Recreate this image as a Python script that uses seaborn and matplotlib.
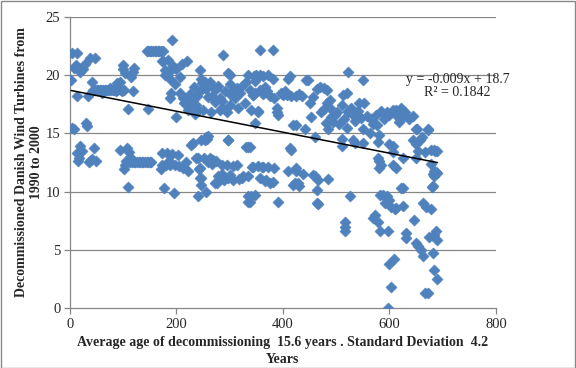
import numpy as np
import pandas as pd
import seaborn as sns
import matplotlib.pyplot as plt
import matplotlib.patches as mpatches

# (turbine index, age at decommissioning), by region
pts_start = [(3,21.9),(13,21.9),(8,20.6),(19,20.3),(2,19.6),(13,18.2),(34,18.2),(28,21.0),
             (38,21.5),(47,21.5),(41,19.4),(3,15.5),(7,15.4),(31,15.9),(32,15.6),(19,13.9),
             (13,13.3),(15,12.6),(38,12.6),(45,13.7),(11,20.9),(24,20.5),(17,12.9),(42,12.8),
             (48,12.6),(35,12.5),(22,13.5)]
run_18 = [(44,18.7),(47,18.7),(50,18.7),(53,18.7),(56,18.7),(59,18.7),(62,18.7),(65,18.7),
          (68,18.7),(71,18.7),(74,18.7),(77,18.7),(80,18.7),(83,18.7),(86,18.6),(89,18.7),
          (92,18.8),(95,18.7),(98,18.6),(101,18.7),(60,18.5),(75,18.9)]
pts_early = [(94,19.4),(99,20.9),(100,20.5),(118,20.3),(121,20.6),(109,17.1),(118,18.6),
             (147,17.1),(94,13.6),(111,13.4),(113,13.0),(104,12.3),(101,11.9),(109,10.4),
             (108,13.7),(88,19.3),(106,12.6),(112,12.5),(104,20.2),(114,19.8)]
run_12 = [(117,12.5),(120,12.5),(123,12.5),(126,12.5),(129,12.5),(132,12.5),(135,12.5),
          (138,12.5),(141,12.5),(144,12.5),(147,12.5),(150,12.5),(153,12.5)]
run_22 = [(144,22.1),(147,22.1),(150,22.1),(153,22.1),(156,22.1),(159,22.1),(162,22.1),
          (165,22.1),(168,22.1),(171,22.1),(174,22.1)]
pts_mid_hi = [(191,23.0),(175,21.2),(185,21.3),(194,20.8),(210,21.0),(219,21.2),(178,20.0),
              (187,19.7),(206,19.8),(182,20.2),(188,18.0),(206,18.5),(200,16.4),(225,18.4),
              (219,18.0),(228,17.4),(237,17.4),(244,18.6),(244,20.4),(246,19.7),(253,19.4),
              (250,17.0),(231,17.9),(238,18.2),(214,17.6),(222,17.0),(234,16.7),(241,17.0),
              (256,18.8),(260,18.1),(232,19.0),(190,18.5),(197,19.2),(172,21.2),(178,20.4),
              (190,20.4),(200,20.5),(212,18.0),(230,18.0),(248,19.3),(265,16.8),(282,17.0)]
pts_mid_lo = [(172,13.3),(183,13.3),(191,13.2),(203,13.1),(172,12.3),(180,12.3),(188,12.3),
              (197,12.3),(205,12.2),(213,12.0),(231,14.2),(237,12.9),(244,12.0),(247,14.4),
              (256,14.7),(258,14.5),(177,10.3),(196,9.9),(240,9.6),(256,10.0),(247,10.6),
              (247,11.2),(243,11.9),(245,11.2),(171,11.9),(186,12.6),(218,12.5),(240,12.9),
              (251,12.9),(259,12.5),(222,11.8),(227,14.0)]
pts_300_hi = [(263,19.4),(269,19.0),(275,18.8),(278,19.1),(288,21.7),(297,20.2),(300,19.2),
              (306,18.7),(313,18.9),(319,18.5),(328,17.6),(281,18.0),(285,17.2),(300,17.4),
              (303,18.3),(331,19.4),(334,20.0),(350,20.0),(353,16.9),(356,20.0),(356,22.2),
              (267,18.2),(272,17.7),(291,18.6),(310,18.0),(322,19.0),(338,18.7),(344,18.3),
              (348,19.5),(340,17.0),(295,16.8),(316,17.2),(286,17.8),(300,20.0),(347,15.9)]
pts_300_lo = [(263,12.9),(269,12.7),(275,12.6),(285,12.3),(297,14.4),(294,12.3),(306,12.2),
              (313,12.3),(331,13.8),(341,12.1),(272,10.7),(278,11.3),(285,11.5),(297,11.2),
              (306,11.0),(277,10.7),(290,11.0),(300,11.4),(318,11.1),(324,11.2),(266,12.4),
              (253,14.4),(259,14.8),(296,14.4),(334,13.8),(334,9.1),(340,9.6)]
pts_400_hi = [(362,18.4),(366,19.0),(370,18.6),(375,18.2),(381,19.7),(384,18.0),(388,17.2),
              (391,16.6),(410,19.7),(408,18.3),(416,18.2),(425,18.2),(419,15.7),(413,19.9),
              (396,18.5),(400,18.3),(404,18.6),(430,18.4),(436,18.2),(444,19.6),(348,18.5),
              (343,18.3),(356,18.7),(372,20.0),(363,19.9),(345,19.9),(388,16.8),(381,22.2),
              (353,16.8)]
pts_400_lo = [(344,12.1),(360,12.1),(369,11.0),(381,10.8),(384,12.0),(372,12.1),(353,12.2),
              (362,12.1),(334,11.3),(325,11.3),(356,11.2),(366,10.9),(375,10.7),(338,9.1),
              (347,9.7),(334,9.6),(391,9.1),(410,11.8),(419,10.6),(428,10.7),(425,11.8),
              (437,11.5),(422,10.7),(431,10.5),(460,11.3),(466,11.0),(484,11.1),(456,11.4),
              (463,10.1),(466,8.9),(425,12.0),(413,13.7),(416,13.6),(338,13.8)]
pts_500 = [(447,19.6),(463,18.8),(470,19.0),(478,18.9),(482,18.7),(488,17.9),(512,18.3),
           (488,17.2),(453,16.4),(425,15.7),(441,15.4),(460,14.7),(450,17.6),(456,18.1),
           (478,17.1),(482,17.6),(472,16.8),(494,16.0),(484,15.4),(497,16.6),(510,17.4),
           (502,16.8),(490,16.4),(505,15.8),(515,16.2),(520,15.5),(510,14.5),(510,13.9),
           (520,18.5),(523,20.3),(480,15.9)]
pts_550 = [(523,16.8),(522,16.9),(532,16.6),(535,16.1),(542,17.6),(547,16.3),(550,15.4),
           (563,15.0),(551,19.6),(553,17.6),(569,15.8),(575,16.6),(576,15.7),(581,14.9),
           (578,14.3),(585,16.9),(590,16.2),(595,16.8),(532,14.4),(535,14.2),(550,14.2),
           (528,17.2),(540,16.9),(557,16.5),(566,16.2),(579,12.9),(581,12.6),(584,12.3),
           (581,12.0)]
pts_650 = [(600,16.6),(606,17.0),(612,16.6),(612,17.0),(622,17.2),(623,17.0),(628,16.5),
           (630,16.8),(644,16.5),(650,15.4),(651,15.4),(662,14.7),(672,15.4),(673,15.3),
           (645,14.4),(650,14.1),(657,14.4),(654,13.5),(666,13.4),(678,13.6),(684,13.6),
           (685,13.5),(690,13.5),(678,12.4),(684,11.8),(600,14.1),(606,13.4),(607,13.9),
           (606,12.3),(625,12.9),(650,12.9),(613,12.0),(683,11.3),(679,10.4),(687,11.7),
           (681,11.5),(681,10.5),(690,11.6),(618,16.0),(636,16.2)]
pts_low = [(516,7.4),(516,7.0),(516,6.6),(525,9.6),(582,9.7),(591,9.0),(588,9.7),(600,9.3),
           (602,8.7),(625,10.3),(625,8.8),(572,8.0),(569,7.7),(578,7.4),(582,6.6),(597,6.6),
           (632,6.4),(632,6.0),(647,7.6),(663,9.0),(669,8.7),(678,8.5),(675,6.1),(684,6.3),
           (687,6.6),(690,5.8),(650,5.6),(653,5.3),(660,5.0),(663,4.5),(681,4.7),(600,3.8),
           (609,4.2),(603,1.8),(597,0.0),(666,1.3),(672,1.3),(684,3.3),(690,2.5),(611,8.5),
           (613,8.6),(622,10.3),(595,9.6),(463,9.0)]

trend_slope = -0.009
trend_icept = 18.7
r_squared = 0.1842
x_ticks = [0, 200, 400, 600, 800]
y_ticks = [0, 5, 10, 15, 20, 25]

all_pts = (pts_start + run_18 + pts_early + run_12 + run_22 + pts_mid_hi + pts_mid_lo
           + pts_300_hi + pts_300_lo + pts_400_hi + pts_400_lo + pts_500 + pts_550
           + pts_650 + pts_low)
df = pd.DataFrame(all_pts, columns=["turbine", "age"])

sns.set_style("white")
plt.rcParams['font.family'] = ['Liberation Serif', 'DejaVu Serif']

fig = plt.figure(figsize=(5.76, 3.68), dpi=100)
ax = fig.add_axes([0.1215, 0.163, 0.7395, 0.791])

blue = "#4F81BD"
grid = "#868686"

sns.scatterplot(data=df, x="turbine", y="age", marker="D", s=32, color=blue,
                edgecolor=blue, linewidth=0.4, ax=ax, zorder=3)

trend = pd.DataFrame({"x": [df.turbine.min(), df.turbine.max()]})
trend["y"] = trend_slope * trend.x + trend_icept
sns.lineplot(data=trend, x="x", y="y", color="black", linewidth=1.1, ax=ax, zorder=4)

ax.set_xlim(0, 800)
ax.set_ylim(0, 25)
ax.set_xticks(x_ticks)
ax.set_yticks(y_ticks)
for yv in y_ticks[1:]:
    ax.axhline(yv, color=grid, linewidth=0.9, zorder=1)
for s in ["top", "right"]:
    ax.spines[s].set_visible(False)
for s in ["left", "bottom"]:
    ax.spines[s].set_color(grid)
    ax.spines[s].set_linewidth(0.9)
ax.tick_params(axis="both", direction="out", length=4, width=0.9, color=grid,
               labelsize=10.5, pad=3, left=True, bottom=True)

ax.set_xlabel("Average age of decommissioning  15.6 years . Standard Deviation  4.2\nYears",
              fontsize=10, fontweight="bold", labelpad=4, linespacing=1.35)
ax.set_ylabel("Decommissioned Danish Wind Turbines from\n1990 to 2000",
              fontsize=10, fontweight="bold", labelpad=2, linespacing=1.2)

ax.text(728, 19.65, "y = -0.009x + 18.7", ha="center", va="center", fontsize=10)
ax.text(728, 18.5, "R² = %.4f" % r_squared, ha="center", va="center", fontsize=10)

fig.patches.append(mpatches.Rectangle((0.001, 0.001), 0.997, 0.996, transform=fig.transFigure,
                                      fill=False, edgecolor="#888888", linewidth=1))

fig.savefig("out.png", dpi=100, facecolor="white")
